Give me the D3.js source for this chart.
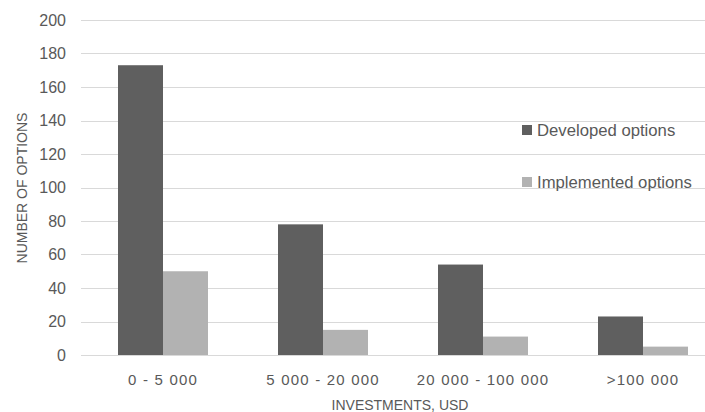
<!DOCTYPE html>
<html><head><meta charset="utf-8">
<script src="https://cdn.jsdelivr.net/npm/d3@7"></script>
<style>body{margin:0;background:#fff}svg{display:block}text{font-family:"Liberation Sans",Arial,sans-serif;fill:#595959}</style>
</head><body><svg id="c" width="705" height="412"></svg>
<script>
const categories = ["0 - 5 000", "5 000 - 20 000", "20 000 - 100 000", ">100 000"];
const seriesNames = ["Developed options", "Implemented options"];
const developed = [173, 78, 54, 23];
const implemented = [50, 15, 11, 5];
const yTicks = [0, 20, 40, 60, 80, 100, 120, 140, 160, 180, 200];
const colors = ["#5f5f5f", "#b2b2b2"];

const svg = d3.select("#c");
const pLeft = 83, pRight = 723, pTop = 20, pBottom = 355;
const x = d3.scaleBand().domain(categories).range([pLeft, pRight]).paddingInner(70/160).paddingOuter(35/160);
const x1 = d3.scaleBand().domain(seriesNames).range([0, x.bandwidth()]);
const y = d3.scaleLinear().domain([0, 200]).range([pBottom, pTop]);

// gridlines
svg.append("g").selectAll("line").data(yTicks).join("line")
  .attr("x1", pLeft - 2).attr("x2", 705).attr("y1", d => Math.round(y(d)) + 0.5).attr("y2", d => Math.round(y(d)) + 0.5)
  .attr("stroke", "#d9d9d9").attr("stroke-width", 1.2);

// y axis labels
const yAxis = d3.axisLeft(y).tickValues(yTicks).tickSize(0).tickPadding(0);
const gy = svg.append("g").attr("transform", `translate(${pLeft - 17},0)`).call(yAxis);
gy.select(".domain").remove();
gy.selectAll("text").attr("font-size", 16).style("fill", "#595959").style("font-family", "Liberation Sans, Arial, sans-serif");

// bars
const data = categories.map((c, i) => ({c, vals: [developed[i], implemented[i]]}));
const groups = svg.append("g").selectAll("g").data(data).join("g").attr("transform", d => `translate(${x(d.c)},0)`);
groups.selectAll("rect").data(d => d.vals.map((v, j) => ({s: seriesNames[j], v, j}))).join("rect")
  .attr("x", d => x1(d.s)).attr("width", x1.bandwidth())
  .attr("y", d => y(d.v)).attr("height", d => y(0) - y(d.v))
  .attr("fill", d => colors[d.j]);

// x axis labels
const xAxis = d3.axisBottom(x).tickSize(0).tickPadding(0);
const gx = svg.append("g").attr("transform", `translate(0,${pBottom + 19})`).call(xAxis);
gx.select(".domain").remove();
gx.selectAll("text").attr("font-size", 15).style("letter-spacing", "1.2px").style("fill", "#595959").style("font-family", "Liberation Sans, Arial, sans-serif");

// axis titles
svg.append("text").attr("x", 400).attr("y", 410).attr("text-anchor", "middle").attr("font-size", 14).text("INVESTMENTS, USD");
svg.append("text").attr("transform", "translate(27,188) rotate(-90)").attr("text-anchor", "middle").attr("font-size", 14).text("NUMBER OF OPTIONS");

// legend
const leg = svg.append("g").selectAll("g").data(seriesNames).join("g")
  .attr("transform", (d, i) => `translate(522,${125 + i * 52})`);
leg.append("rect").attr("width", 10).attr("height", 10).attr("fill", (d, i) => colors[i]);
leg.append("text").attr("x", 15).attr("y", 10.5).attr("font-size", 16.7).text(d => d);
</script></body></html>
